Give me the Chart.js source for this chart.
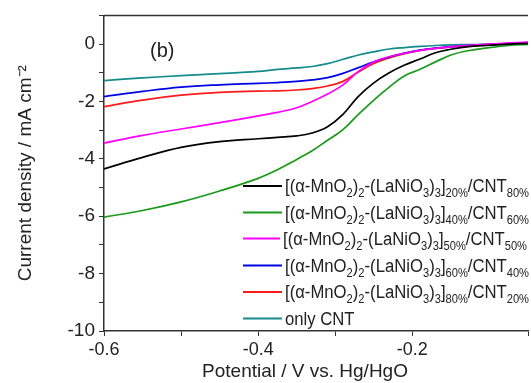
<!DOCTYPE html>
<html>
<head>
<meta charset="utf-8">
<script src="https://cdn.jsdelivr.net/npm/chart.js@4.4.0/dist/chart.umd.min.js"></script>
<style>
  html, body { margin: 0; padding: 0; background: #fff; }
  canvas { display: block; }
</style>
</head>
<body>
<canvas id="lsv" width="531" height="383"></canvas>
<script>
// potencial (V vs. Hg/HgO)
const potential = [-0.6, -0.55, -0.5, -0.45, -0.4, -0.375, -0.35, -0.33, -0.31, -0.29, -0.27,
  -0.25, -0.23, -0.21, -0.19, -0.17, -0.15, -0.13, -0.1, -0.075, -0.05];

// densidade de corrente (mA cm-2) de cada amostra
const cat20 = [-4.35, -3.95, -3.6, -3.4, -3.3, -3.25, -3.2, -3.1, -2.88, -2.45, -1.82,
  -1.35, -1.0, -0.73, -0.52, -0.3, -0.18, -0.1, -0.04, 0.0, 0.02];
const cat40 = [-6.03, -5.8, -5.5, -5.12, -4.68, -4.38, -4.02, -3.72, -3.35, -2.98, -2.45,
  -1.95, -1.5, -1.1, -0.88, -0.62, -0.38, -0.24, -0.12, -0.05, -0.01];
const cat50 = [-3.45, -3.18, -2.96, -2.74, -2.5, -2.38, -2.22, -2.0, -1.74, -1.42, -0.95,
  -0.62, -0.44, -0.32, -0.22, -0.15, -0.1, -0.05, 0.0, 0.04, 0.07];
const cat60 = [-1.83, -1.65, -1.5, -1.42, -1.37, -1.34, -1.3, -1.25, -1.17, -1.02, -0.82,
  -0.62, -0.45, -0.31, -0.21, -0.14, -0.09, -0.05, -0.01, 0.02, 0.05];
const cat80 = [-2.18, -1.95, -1.78, -1.68, -1.64, -1.63, -1.6, -1.55, -1.46, -1.3, -0.97,
  -0.68, -0.48, -0.33, -0.22, -0.15, -0.1, -0.06, -0.01, 0.02, 0.05];
const onlyCnt = [-1.27, -1.18, -1.1, -1.03, -0.95, -0.88, -0.83, -0.78, -0.68, -0.53, -0.38,
  -0.27, -0.17, -0.12, -0.08, -0.05, -0.03, -0.02, -0.01, 0.01, 0.03];

const seriesOrder = [cat20, cat40, cat50, cat60, cat80, onlyCnt];
const seriesPct = [['20%', '80%'], ['40%', '60%'], ['50%', '50%'], ['60%', '40%'], ['80%', '20%'], null];
const seriesColors = ['#000000', '#1a9a1a', '#ff00ff', '#0000e6', '#ff1a1a', '#158c8c'];

const xTickLabels = [-0.6, -0.4, -0.2];
const yTickLabels = [0, -2, -4, -6, -8, -10];

const FONT = '"Liberation Sans", Arial, sans-serif';
Chart.defaults.font.family = FONT;
Chart.defaults.color = '#222';

function partesLegenda(pct) {
  if (!pct) return [['only CNT', 0]];
  return [['[(\u03b1-MnO', 0], ['2', 1], [')', 0], ['2', 1], ['-(LaNiO', 0], ['3', 1],
    [')', 0], ['3', 1], [']', 0], [pct[0], 1], ['/CNT', 0], [pct[1], 1]];
}

function larguraPartes(ctx, partes) {
  let w = 0;
  partes.forEach(([txt, sub]) => {
    ctx.font = (sub ? '12px ' : '18px ') + FONT;
    w += ctx.measureText(txt).width;
  });
  return w;
}

// legenda com subscritos desenhada à mão
const legendaPlugin = {
  id: 'legenda',
  afterDraw(chart) {
    const { ctx, chartArea } = chart;
    ctx.save();

    // borda superior
    ctx.strokeStyle = '#333';
    ctx.lineWidth = 1.5;
    ctx.beginPath();
    ctx.moveTo(chartArea.left, chartArea.top);
    ctx.lineTo(chartArea.right, chartArea.top);
    ctx.stroke();

    ctx.fillStyle = '#222';
    ctx.font = '20px ' + FONT;
    ctx.textBaseline = 'alphabetic';
    ctx.fillText('(b)', 150, 57);

    // título do eixo x (centrado como no original)
    ctx.font = '19px ' + FONT;
    ctx.textAlign = 'center';
    ctx.fillText('Potential / V vs. Hg/HgO', 305, 377);
    ctx.textAlign = 'left';

    // escala horizontal para a linha do meio ocupar 283 -> 527
    const sx = 244 / larguraPartes(ctx, partesLegenda(seriesPct[2]));

    const rowY = [186, 212.5, 238.5, 265.5, 292, 318.5];
    seriesColors.forEach((cor, i) => {
      const y = rowY[i];
      const textX = i === 2 ? 283 : 285;
      ctx.strokeStyle = cor;
      ctx.lineWidth = 2;
      ctx.beginPath();
      ctx.moveTo(243, y);
      ctx.lineTo(textX - 3, y);
      ctx.stroke();

      ctx.save();
      ctx.translate(textX, y + 6);
      ctx.scale(sx, 1);
      ctx.fillStyle = '#222';
      let cx = 0;
      partesLegenda(seriesPct[i]).forEach(([txt, sub]) => {
        ctx.font = (sub ? '12px ' : '18px ') + FONT;
        ctx.fillText(txt, cx, sub ? 5 : 0);
        cx += ctx.measureText(txt).width;
      });
      ctx.restore();
    });

    ctx.restore();
  }
};

const datasets = seriesOrder.map((serie, i) => ({
  label: 'serie' + i,
  data: potential.map((v, k) => ({ x: v, y: serie[k] })),
  borderColor: seriesColors[i],
  borderWidth: 1.7,
  pointRadius: 0,
  fill: false,
  tension: 0.4,
}));

new Chart(document.getElementById('lsv'), {
  type: 'line',
  data: { datasets },
  plugins: [legendaPlugin],
  options: {
    responsive: false,
    animation: false,
    devicePixelRatio: 1,
    layout: { padding: { top: 13, right: 0, left: 0, bottom: 0 } },
    plugins: {
      legend: { display: false },
      tooltip: { enabled: false }
    },
    scales: {
      x: {
        type: 'linear',
        min: -0.6,
        max: -0.05,
        afterFit: (s) => { s.height = 52; },
        border: { display: true, color: '#333', width: 1.5 },
        grid: { drawOnChartArea: false, drawTicks: true, tickLength: 5, color: '#333' },
        ticks: {
          stepSize: 0.1,
          autoSkip: false,
          maxRotation: 0,
          padding: 3,
          font: { size: 18 },
          color: '#222',
          callback: (v) => {
            const r = Math.round(v * 10) / 10;
            return xTickLabels.some(t => Math.abs(t - v) < 1e-6) ? r.toFixed(1) : '';
          }
        },
        title: { display: false }
      },
      y: {
        min: -10,
        max: 1,
        afterFit: (s) => { s.width = 104; },
        border: { display: true, color: '#333', width: 1.5 },
        grid: { drawOnChartArea: false, drawTicks: true, tickLength: 5, color: '#333' },
        ticks: {
          stepSize: 1,
          autoSkip: false,
          padding: 4,
          font: { size: 19 },
          color: '#222',
          callback: (v) => yTickLabels.includes(Math.round(v)) && Math.abs(v - Math.round(v)) < 1e-6 ? String(Math.round(v)) : ''
        },
        title: {
          display: true,
          text: 'Current density / mA cm\u207b\u00b2',
          font: { size: 19 },
          color: '#222',
          padding: { top: 14, bottom: 0 }
        }
      }
    }
  }
});
</script>
</body>
</html>
